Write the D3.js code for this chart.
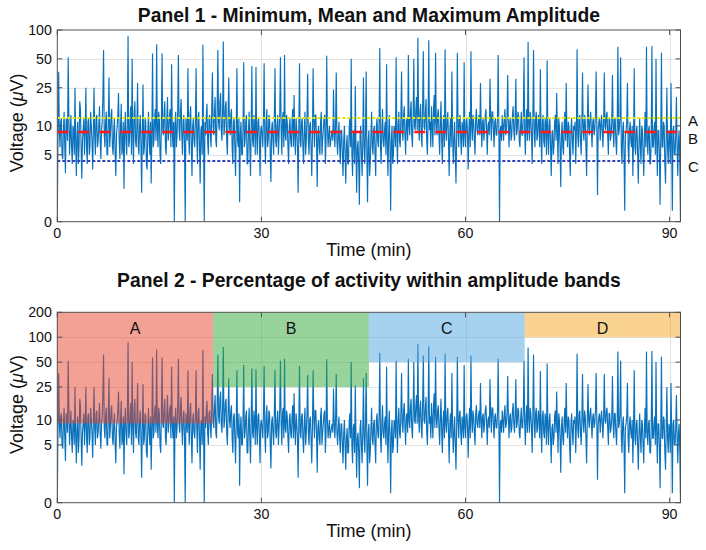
<!DOCTYPE html>
<html><head><meta charset="utf-8">
<script src="https://cdn.jsdelivr.net/npm/d3@7"></script>
<style>
body{margin:0;background:#fff}
text{font-family:"Liberation Sans",Arial,Helvetica,sans-serif;fill:#111}
</style>
</head><body><svg id="chart" width="706" height="550"></svg>
<script>
// ---------- data ----------
const sampleMinutes = 0.1;   // sampling step of the trace (min)
const duration = 91.6;       // recording length (min)
const voltage = [
0,8,36.7,9,6,11,12,5,4.5,9,14,6,3.2,12,10,7,52,13,5,8,
13,6,4,10,9,5,25,7,3,8,11,4,6,18,15,6,2.8,7,9,12,
5,9,25,6,4,11,12,5,6,14,10,7,3.5,9,25,8,5,12,13,6,
7,10,16,7,4.5,9,11,20,62,8,6,11,14,5,5,12,32,6,8,13,
15,6,5,9,12,5,3,8,10,13,22,7,4.5,10,17,5,6,11,2.2,9,
14,7,5,11,87,6,7,12,16,5,50,8,4,13,18,7,6,10,28,6,
5,10,13,6,2,9,27,5,6,12,11,4,3.5,8,14,7,5,11,2.5,8,
57,6,7,12,15,7,71,9,6,14,12,5,4,11,57,9,8,13,18,6,
5,12,20,7,9,13,15,6,44,9,6,11,0,10,14,6,8,15,55,9,
7,14,19,8,5,11,13,6,0.5,12,9,7,40,9,5,13,16,6,3,10,
12,7,6,11,40,8,4,12,14,6,2.5,9,10,5,70,7,0,11,8,13,
17,7,5,12,13,8,6,15,36,10,8,14,20,7,6,16,62,11,9,18,
22,9,7,14,76,8,10,16,18,7,5,12,32,10,8,13,15,6,4,11,
12,6,3,9,40,7,6,12,1.6,8,11,5,5,10,46,6,7,11,13,4,
4,9,14,6,3,10,42,7,6,13,10,5,41,8,5,11,12,7,3,9,
10,8,6,12,45,7,4,11,15,6,7,13,12,5,2.6,9,11,7,5,12,
40,7,6,10,13,5,8,14,52,9,5,12,14,6,55,8,7,13,11,6,
4,10,12,7,6,11,15,6,21,8,5,12,9,6,2,9,45,7,6,11,
12,6,4,9,14,5,7,12,35,7,5,10,11,6,3,8,40,11,6,13,
13,7,2.3,8,10,6,5,11,14,5,7,9,12,13,4,7,54,10,6,8,
10,6,7,8,9,7,24,9,6,10,36,7,5,8,11,6,4,9,9,5,
3,7,10,5,2.5,6,8,4,4,9,12,6,50,5,3,8,9,4,26,6,
2,6,7,4,1.5,8,10,5,3,7,32,6,4,9,37,5,1.6,7,9,3,
4,8,14,6,5,9,10,5,3,10,12,7,6,11,65,6,4,9,15,7,
6,9,11,5,44,7,3,8,13,6,1.3,7,10,4,5,10,9,6,52,8,
4,10,14,7,6,12,37,9,7,13,16,8,5,11,12,7,55,10,8,14,
18,8,6,13,50,10,9,15,20,9,83,12,7,14,17,8,6,16,60,10,
9,14,19,7,5,12,78,9,11,6,16,10,6,15,21,8,58,11,8,13,
15,8,5,11,18,7,4,10,13,6,63,9,7,12,14,7,3,9,12,6,
37,9,4,7,11,5,2.5,8,58,10,6,12,13,7,5,11,9,6,46,8,
6,11,12,8,3.5,9,14,6,60,10,7,13,11,7,5,12,15,9,8,11,
13,8,28,10,6,11,12,7,9,13,15,9,5,10,11,8,31,12,7,14,
14,9,6,11,12,8,8,12,55,10,0,9,10,7,13,10,7,12,15,8,
9,12,34,10,6,11,12,7,8,13,16,9,7,12,31,8,9,14,13,7,
6,10,14,8,8,13,52,9,5,11,15,7,75,10,7,14,12,8,4,12,
62,9,6,12,14,7,8,13,11,6,39,8,4,11,13,7,6,12,10,5,
48,8,5,10,12,6,3,8,9,5,6,11,13,7,22,9,4,12,10,6,
2.3,8,11,6,5,10,14,7,28,9,6,11,10,5,3,9,12,7,5,10,
9,11,4,9,63,8,6,12,13,7,5,10,36,9,7,13,11,6,3,10,
27,10,8,12,14,9,6,11,12,8,9,13,37,10,1.9,9,11,12,7,10,
13,9,6,11,36,10,9,13,14,8,5,12,12,7,8,11,34,9,6,12,
12,7,5,10,67,8,9,12,52,6,4,9,11,5,1.3,8,9,11,28,6,
4,9,11,7,6,10,3,8,40,6,5,9,10,5,2.5,7,12,6,4,10,
9,5,3,8,14,6,67,7,5,9,10,4,4,8,68,6,6,9,11,5,
50,7,3,9,9,5,1.5,8,58,6,6,11,10,4,2.5,8,25,6,4,9,
8,4,28,7,1.3,9,10,5,5,8,20,6,3,7,9,4,1
];
const xTicks = [0, 30, 60, 90];
const yTicks1 = [1, 5, 10, 25, 50, 100];
const yTickLabels1 = ["0", "5", "10", "25", "50", "100"];
const yTicks2 = [1, 5, 10, 25, 50, 100, 200];
const yTickLabels2 = ["0", "5", "10", "25", "50", "100", "200"];
const refLabels = ["A", "B", "C"];
const refValues = [12.2, 8.6, 4.3];
const bandLabels = ["A", "B", "C", "D"];
const bandStarts = [0, 22.9, 45.8, 68.7];
const bandEnds = [22.9, 45.8, 68.7, 91.6];
const bandLows = [9.1, 25, 50, 100];
const bandHigh = 200;
const titles = ["Panel 1 - Minimum, Mean and Maximum Amplitude",
                "Panel 2 - Percentage of activity within amplitude bands"];

// ---------- styles ----------
const refColors = ["#e6e600", "#ff1a1a", "#3040b8"];
const refDash = ["3,2", "11,10", "3,2"];
const refWidth = [2.2, 2.5, 2];
const refLabelShift = [3, 6.5, 5.5];
const bandColors = ["#e8412b", "#32a837", "#4da5e1", "#f5a523"];
const lineColor = "#0a72bd";
const frameColor = "#505050";
const gridColor = "#e2e2e2";

const svg = d3.select("#chart");
const X0 = 57.3, X1 = 680.5;
const panels = [
  {top: 30, bottom: 221.7, ymax: 100, ticks: yTicks1, labels: yTickLabels1, title: titles[0], titleY: 21.7},
  {top: 312.3, bottom: 502.7, ymax: 200, ticks: yTicks2, labels: yTickLabels2, title: titles[1], titleY: 286.7}
];

const x = d3.scaleLinear().domain([0, duration]).range([X0, X1]);
const series = voltage.map((v, i) => ({t: i * sampleMinutes, v}));

panels.forEach((p, pi) => {
  const y = d3.scaleLog().domain([1, p.ymax]).range([p.bottom, p.top]).clamp(true);
  const g = svg.append("g");
  const clipId = "clip" + pi;
  svg.append("clipPath").attr("id", clipId).append("rect")
    .attr("x", X0).attr("y", p.top).attr("width", X1 - X0).attr("height", p.bottom - p.top);

  // grid
  g.append("g").selectAll("line").data(p.ticks.slice(1, -1)).join("line")
    .attr("x1", X0).attr("x2", X1)
    .attr("y1", d => Math.round(y(d)) + 0.5).attr("y2", d => Math.round(y(d)) + 0.5)
    .attr("stroke", gridColor).attr("stroke-width", 1);
  g.append("g").selectAll("line").data(xTicks.slice(1)).join("line")
    .attr("x1", d => Math.round(x(d)) + 0.5).attr("x2", d => Math.round(x(d)) + 0.5)
    .attr("y1", p.top).attr("y2", p.bottom)
    .attr("stroke", gridColor).attr("stroke-width", 1);

  // signal
  const line = d3.line().x(d => x(d.t)).y(d => y(Math.max(d.v, 1)));
  g.append("path").datum(series).attr("clip-path", `url(#${clipId})`)
    .attr("d", line).attr("fill", "none").attr("stroke", lineColor)
    .attr("stroke-width", 1.15).attr("stroke-linejoin", "bevel");

  if (pi === 0) {
    refValues.forEach((v, i) => {
      const yy = Math.round(y(v));
      g.append("line").attr("x1", X0).attr("x2", X1).attr("y1", yy).attr("y2", yy)
        .attr("stroke", refColors[i]).attr("stroke-width", refWidth[i])
        .attr("stroke-dasharray", refDash[i]);
      g.append("text").attr("x", 688).attr("y", y(v) + refLabelShift[i]).attr("dy", "0.36em")
        .attr("font-size", 15).text(refLabels[i]);
    });
  } else {
    bandLabels.forEach((lab, i) => {
      g.append("rect").attr("x", x(bandStarts[i])).attr("width", x(bandEnds[i]) - x(bandStarts[i]))
        .attr("y", y(bandHigh)).attr("height", y(bandLows[i]) - y(bandHigh))
        .attr("fill", bandColors[i]).attr("fill-opacity", 0.5);
      g.append("text").attr("x", (x(bandStarts[i]) + x(bandEnds[i])) / 2).attr("y", p.top + 21.7)
        .attr("text-anchor", "middle").attr("font-size", 16).text(lab);
    });
  }

  // frame
  g.append("rect").attr("x", X0).attr("y", p.top).attr("width", X1 - X0).attr("height", p.bottom - p.top)
    .attr("fill", "none").attr("stroke", frameColor).attr("stroke-width", 1);

  // y ticks (inside, left and right)
  const yt = g.append("g");
  p.ticks.forEach((d, i) => {
    const yy = y(d);
    yt.append("line").attr("x1", X0).attr("x2", X0 + 5).attr("y1", yy).attr("y2", yy).attr("stroke", frameColor);
    yt.append("line").attr("x1", X1 - 5).attr("x2", X1).attr("y1", yy).attr("y2", yy).attr("stroke", frameColor);
    yt.append("text").attr("x", X0 - 5.5).attr("y", yy).attr("dy", "0.36em")
      .attr("text-anchor", "end").attr("font-size", 14.2).text(p.labels[i]);
  });
  // x ticks (inside, bottom and top)
  xTicks.forEach(d => {
    const xx = x(d);
    yt.append("line").attr("x1", xx).attr("x2", xx).attr("y1", p.bottom).attr("y2", p.bottom - 5).attr("stroke", frameColor);
    yt.append("line").attr("x1", xx).attr("x2", xx).attr("y1", p.top).attr("y2", p.top + 5).attr("stroke", frameColor);
    yt.append("text").attr("x", xx).attr("y", p.bottom + 16.5)
      .attr("text-anchor", "middle").attr("font-size", 14.2).text(d);
  });

  // axis labels
  g.append("text").attr("x", (X0 + X1) / 2).attr("y", p.bottom + 34.5)
    .attr("text-anchor", "middle").attr("font-size", 18).text("Time (min)");
  const yl = g.append("text").attr("transform", `translate(23,${(p.top + p.bottom) / 2 - 3}) rotate(-90)`)
    .attr("text-anchor", "middle").attr("font-size", 18);
  yl.append("tspan").text("Voltage (");
  yl.append("tspan").attr("font-style", "italic").text("\u03bc");
  yl.append("tspan").text("V)");

  // title
  g.append("text").attr("x", (X0 + X1) / 2).attr("y", p.titleY)
    .attr("text-anchor", "middle").attr("font-size", 19.3).attr("font-weight", "bold").text(p.title);
});
</script>
</body></html>
